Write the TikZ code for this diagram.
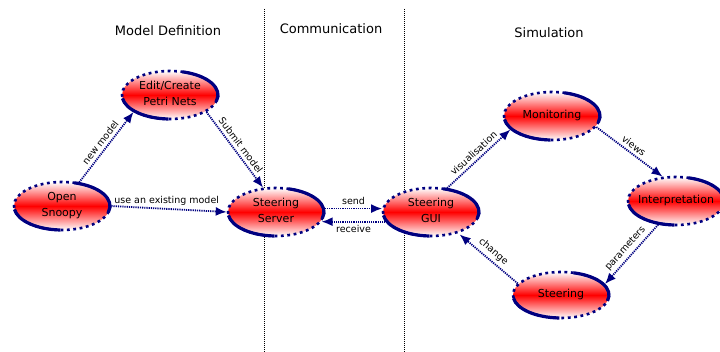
\documentclass[tikz,border=0pt]{standalone}
\usepackage{fontspec}
\setmainfont{DejaVu Sans}
\usetikzlibrary{shapes.geometric,arrows.meta,calc}
\definecolor{navyblue}{RGB}{0,0,128}
\newcommand\nodetext[1]{\makebox[0pt]{\begin{tabular}{@{}c@{}}#1\end{tabular}}}
\tikzset{
  stnode/.style={ellipse, inner sep=0pt, minimum width=96pt, minimum height=48pt,
    top color=white, bottom color=white, middle color=red,
    draw=navyblue, line width=2.6pt, dash pattern=on 2.8pt off 3.6pt,
    font=\fontsize{11}{14}\selectfont},
  solidarc/.style={draw=navyblue, line width=3.2pt, solid},
  conn/.style={draw=navyblue, line width=1.8pt, dash pattern=on 1.2pt off 1pt,
    -{Latex[length=11pt,width=9pt]}},
  lab/.style={font=\fontsize{9.5}{11}\selectfont, text=black, inner sep=3pt},
  title/.style={font=\fontsize{13}{15}\selectfont},
  divider/.style={draw=black, line width=0.7pt, dash pattern=on 0.8pt off 1.2pt},
}
\newcommand\ellarcs[2]{% name, y radius
  \draw[solidarc] (#1.center) ++(75:48pt and #2pt) arc[start angle=75, end angle=-15, x radius=48pt, y radius=#2pt];
  \draw[solidarc] (#1.center) ++(268:48pt and #2pt) arc[start angle=268, end angle=188, x radius=48pt, y radius=#2pt];
}
\begin{document}
\begin{tikzpicture}[x=1pt,y=1pt]
\useasboundingbox (0,0) rectangle (720,-352);
% dividers
\coordinate (d1t) at (264,-9);
\coordinate (d1b) at (264,-352);
\coordinate (d2t) at (404,-9);
\coordinate (d2b) at (404,-352);
\draw[divider] (d1t) -- (d1b);
\draw[divider] (d2t) -- (d2b);
% titles
\node[title] (t1) at (168,-31) {Model Definition};
\node[title] (t2) at (331,-29) {Communication};
\node[title] (t3) at (549,-33) {Simulation};
% nodes
\node[stnode] (os) at (62,-206) {\nodetext{Open\\[2pt]Snoopy}};
\node[stnode] (ed) at (170,-95) {\nodetext{Edit/Create\\[2pt]Petri Nets}};
\node[stnode] (sv) at (276,-212) {\nodetext{Steering\\[2pt]Server}};
\node[stnode] (gui) at (431,-212) {\nodetext{Steering\\[2pt]GUI}};
\node[stnode] (mo) at (552,-116) {\nodetext{Monitoring}};
\node[stnode] (in) at (676,-201) {\nodetext{Interpretation}};
\node[stnode, minimum height=46pt] (st) at (561,-295) {\nodetext{Steering}};
\ellarcs{os}{24}
\ellarcs{ed}{24}
\ellarcs{sv}{24}
\ellarcs{gui}{24}
\ellarcs{mo}{24}
\ellarcs{in}{24}
\ellarcs{st}{23}
% connectors
\draw[conn] (os.54) -- node[lab, sloped, above] {new model} (ed.205);
\draw[conn] (ed.335) -- node[lab, sloped, above] {Submit model} (sv.118);
\draw[conn] (os.east) -- node[lab, above, pos=0.48] {use an existing model} (sv.west);
\draw[conn] (sv.4) -- node[lab, above] {send} (gui.176);
\draw[conn] (gui.192) -- node[lab, below] {receive} (sv.348);
\draw[conn] (gui.56) -- node[lab, sloped, above] {visualisation} (mo.198);
\draw[conn] (mo.346) -- node[lab, sloped, above] {views} (in.119);
\draw[conn] (in.233) -- node[lab, sloped, above] {parameters} (st.14);
\draw[conn, shorten >=2pt] (st.165) -- node[lab, sloped, above] {change} (gui.322);
\end{tikzpicture}
\end{document}
